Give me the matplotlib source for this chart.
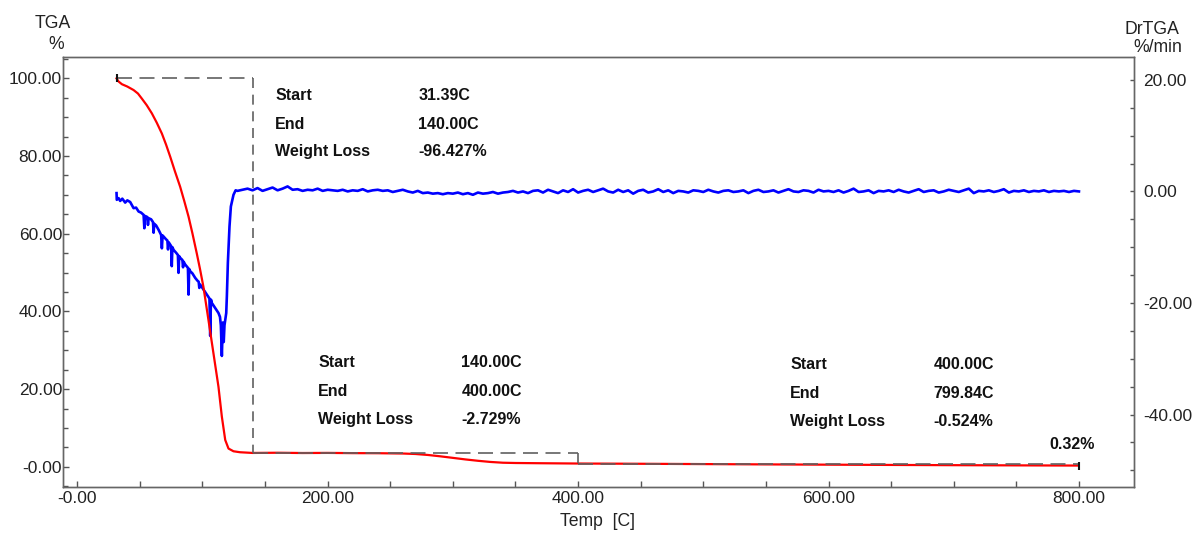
import numpy as np
import matplotlib
matplotlib.use("Agg")
import matplotlib.pyplot as plt
from matplotlib.ticker import MultipleLocator, FixedLocator, FixedFormatter

plt.rcParams["font.family"] = ["Liberation Sans", "DejaVu Sans"]

# ---- TGA curve (weight %, left axis) ----
tga_temp = [31.39, 33.0, 35.7, 40.0, 45.0, 48.5, 51.6, 55.5, 59.6, 63.5, 67.6,
            71.0, 74.3, 78.0, 82.2, 85.5, 88.9, 92.0, 95.5, 98.0, 100.8, 104.8,
            108.8, 112.8, 115.5, 118.2, 120.8, 124.8, 130.0, 140.0, 160.0, 180.0,
            200.0, 220.0, 240.0, 260.0, 270.0, 280.0, 290.0, 300.0, 310.0, 320.0,
            330.0, 340.0, 350.0, 370.0, 400.0, 450.0, 500.0, 550.0, 600.0, 650.0,
            700.0, 750.0, 799.84]
tga_mass = [100.0, 99.2, 98.5, 97.9, 97.0, 96.1, 94.8, 93.1, 91.0, 88.6, 85.8,
            82.9, 79.8, 76.1, 72.1, 68.4, 64.4, 60.1, 54.9, 51.0, 46.3, 37.8,
            29.2, 20.6, 12.9, 6.9, 4.7, 4.0, 3.75, 3.57, 3.62, 3.55, 3.58, 3.52,
            3.50, 3.42, 3.30, 3.05, 2.70, 2.30, 1.90, 1.55, 1.25, 1.05, 0.98,
            0.92, 0.844, 0.78, 0.70, 0.62, 0.55, 0.48, 0.42, 0.37, 0.32]

# ---- DrTGA curve (%/min, right axis): main decomposition region ----
dtg_temp_main = [31.4, 31.6, 33.0, 34.3, 36.0, 38.3, 40.0, 42.3, 45.0, 47.0, 49.0,
                 51.0, 53.0, 53.6, 54.2, 56.0, 56.5, 57.0, 59.0, 60.5, 61.0, 61.5,
                 63.0, 65.0, 67.0, 67.6, 68.2, 69.0, 71.0, 72.0, 72.5, 73.0, 75.0,
                 75.5, 76.0, 77.0, 79.0, 80.4, 80.9, 81.4, 82.2, 84.0, 84.5, 85.0,
                 86.2, 88.4, 88.9, 89.4, 90.2, 92.0, 94.2, 96.0, 97.0, 97.5, 98.2,
                 100.8, 103.5, 105.6, 106.2, 106.8, 107.5, 110.2, 112.8, 114.0,
                 114.7, 115.5, 116.3, 117.0, 117.6, 119.0, 119.5, 120.3, 121.6,
                 122.7, 124.8, 126.5]
dtg_rate_main = [-0.3, -1.5, -1.2, -1.7, -1.3, -2.0, -1.6, -1.9, -3.0, -2.9, -3.6,
                 -3.8, -4.2, -6.6, -4.4, -4.6, -6.0, -4.8, -5.0, -5.5, -7.4, -5.8,
                 -6.1, -6.9, -7.8, -10.2, -7.9, -8.1, -8.6, -8.8, -10.4, -9.1, -9.8,
                 -13.4, -10.0, -10.5, -11.0, -11.4, -14.6, -11.6, -11.9, -12.3,
                 -13.6, -12.6, -13.1, -13.7, -18.5, -13.9, -14.3, -14.7, -15.5,
                 -16.0, -16.2, -17.3, -16.7, -17.6, -18.5, -19.2, -25.9, -19.4,
                 -20.0, -20.9, -21.8, -22.5, -24.0, -29.5, -23.5, -27.0, -24.0,
                 -21.8, -18.8, -12.8, -6.3, -2.7, -0.6, 0.2]

# ---- DrTGA baseline after the main step, sampled every 4 C from 128 C ----
dtg_temp_flat = np.arange(128, 801, 4)
dtg_rate_flat = [
    0.1, 0.3, 0.5, 0.2, 0.6, 0.1, 0.4, 0.7, 0.2, 0.5,
    0.9, 0.3, 0.4, 0.1, 0.3, 0.2, 0.5, 0.1, 0.3, 0.2,
    0.1, 0.3, 0.0, 0.2, 0.1, 0.4, 0.0, 0.2, 0.3, 0.1,
    0.2, -0.1, 0.1, 0.3, 0.0, -0.2, 0.1, -0.3, -0.2, -0.4,
    -0.3, -0.5, -0.3, -0.4, -0.2, -0.5, -0.3, -0.6, -0.2, -0.4,
    -0.3, -0.1, -0.4, -0.2, -0.1, 0.1, -0.2, 0.0, -0.3, 0.1,
    0.2, -0.2, 0.3, 0.0, -0.3, 0.2, -0.1, 0.4, -0.2, 0.1,
    0.3, -0.1, 0.2, 0.5, 0.0, -0.2, 0.3, -0.1, 0.2, -0.4,
    0.1, 0.3, -0.2, 0.0, 0.4, -0.1, 0.2, -0.3, 0.1, 0.0,
    -0.2, 0.2, 0.1, -0.1, 0.3, 0.0, -0.2, 0.1, 0.2, -0.1,
    0.0, 0.2, -0.3, 0.1, 0.3, -0.1, 0.0, 0.2, -0.2, 0.1,
    0.4, 0.0, -0.1, 0.2, 0.1, -0.2, 0.3, 0.0, 0.1, -0.1,
    0.2, -0.2, 0.1, 0.5, -0.1, 0.0, 0.2, -0.3, 0.1, 0.0,
    0.2, -0.1, 0.3, 0.0, -0.2, 0.1, 0.4, -0.1, 0.1, 0.2,
    -0.2, 0.0, 0.3, 0.1, -0.1, 0.2, 0.5, -0.3, 0.1, 0.0,
    0.2, -0.1, 0.1, 0.4, -0.2, 0.1, 0.0, 0.2, -0.1, 0.1,
    0.0, 0.2, -0.1, 0.1, 0.0, 0.1, -0.1, 0.1, 0.0,
]

# ---- step analysis results ----
step_start = [31.39, 140.00, 400.00]
step_end = [140.00, 400.00, 799.84]
step_loss = [-96.427, -2.729, -0.524]
initial_mass = 100.0
residue = 0.32

# ---- tick labels ----
x_ticks = [0, 200, 400, 600, 800]
x_ticklabels = ["-0.00", "200.00", "400.00", "600.00", "800.00"]
y_ticks = [0, 20, 40, 60, 80, 100]
y_ticklabels = ["-0.00", "20.00", "40.00", "60.00", "80.00", "100.00"]
y2_ticks = [-40, -20, 0, 20]
y2_ticklabels = ["-40.00", "-20.00", "0.00", "20.00"]

fig = plt.figure(figsize=(11.95, 5.33), dpi=100)
ax = fig.add_axes([0.0531, 0.0863, 0.8959, 0.8067])
ax2 = ax.twinx()
ax.set_zorder(ax2.get_zorder() + 1)
ax.patch.set_visible(False)

dtg_temp = np.concatenate([dtg_temp_main, dtg_temp_flat])
dtg_rate = np.concatenate([dtg_rate_main, dtg_rate_flat])
ax2.plot(dtg_temp, dtg_rate, color="#0000ff", lw=1.9, solid_joinstyle="round")

ax.plot(tga_temp, tga_mass, color="#ff0000", lw=1.6)

# step boxes
levels = initial_mass + np.cumsum(step_loss)
prev = initial_mass
dash_kw = dict(color="#606060", lw=1.2)
for s, e, lv in zip(step_start, step_end, levels):
    ax.plot([s, e], [prev, prev], ls=(0, (9, 4.5)), **dash_kw)
    ax.plot([e, e], [prev, lv], ls=(0, (6, 4)), **dash_kw)
    prev = lv
ax.plot([step_start[0]], [initial_mass], marker="|", ms=6, mew=1.5, color="#111111")
ax.plot([step_end[-1]], [levels[-1]], marker="|", ms=6, mew=1.5, color="#111111")

# annotation blocks
block_pos = [(158.1, 272.4, [95.6, 88.2, 81.1]),
             (192.5, 306.7, [26.9, 19.4, 12.2]),
             (569.5, 683.7, [26.4, 18.9, 11.7])]
txt_kw = dict(fontsize=11.5, fontweight="bold", color="#111111", va="center", ha="left")
for (lx, vx, ys), s, e, wl in zip(block_pos, step_start, step_end, step_loss):
    ax.text(lx, ys[0], "Start", **txt_kw)
    ax.text(lx, ys[1], "End", **txt_kw)
    ax.text(lx, ys[2], "Weight Loss", **txt_kw)
    ax.text(vx, ys[0], f"{s:.2f}C", **txt_kw)
    ax.text(vx, ys[1], f"{e:.2f}C", **txt_kw)
    ax.text(vx, ys[2], f"{wl:.3f}%", **txt_kw)
ax.text(776.6, 5.8, f"{residue:.2f}%", **txt_kw)

# axes limits and ticks
ax.set_xlim(-11, 844)
ax.set_ylim(-5.2, 105.5)
ax2.set_ylim(-53.0, 24.1)

tick_color = "#555555"
lab_color = "#222222"
ax.xaxis.set_major_locator(FixedLocator(x_ticks))
ax.xaxis.set_major_formatter(FixedFormatter(x_ticklabels))
ax.xaxis.set_minor_locator(MultipleLocator(50))
ax.yaxis.set_major_locator(FixedLocator(y_ticks))
ax.yaxis.set_major_formatter(FixedFormatter(y_ticklabels))
ax.yaxis.set_minor_locator(MultipleLocator(5))
ax2.yaxis.set_major_locator(FixedLocator(y2_ticks))
ax2.yaxis.set_major_formatter(FixedFormatter(y2_ticklabels))
ax2.yaxis.set_minor_locator(MultipleLocator(5))

ax.tick_params(axis="x", which="both", direction="in", length=4.5, width=1,
               color=tick_color, labelsize=12.5, labelcolor=lab_color, pad=3)
ax.tick_params(axis="y", which="both", direction="in", length=4.5, width=1,
               color=tick_color, labelsize=12.5, labelcolor=lab_color, pad=1)
ax.tick_params(axis="y", which="minor", length=3.5)
ax2.tick_params(axis="y", which="both", direction="in", length=3.2, width=1,
                color=tick_color, labelsize=12.5, labelcolor=lab_color, pad=6.5)

for a in (ax, ax2):
    for sp in a.spines.values():
        sp.set_color("#666666")
        sp.set_linewidth(1.0)

# axis titles
fig.text(52.5 / 1195, 1 - 23 / 533, "TGA", ha="center", va="center",
         fontsize=12.7, color=lab_color)
fig.text(56 / 1195, 1 - 45 / 533, "%", ha="center", va="center",
         fontsize=12.7, color=lab_color)
fig.text(1152 / 1195, 1 - 29 / 533, "DrTGA", ha="center", va="center",
         fontsize=12.7, color=lab_color)
fig.text(1158 / 1195, 1 - 47 / 533, "%/min", ha="center", va="center",
         fontsize=12.7, color=lab_color)
fig.text(597 / 1195, 1 - 522 / 533, "Temp  [C]", ha="center", va="center",
         fontsize=12.7, color=lab_color)

fig.savefig("out.png", dpi=100)
